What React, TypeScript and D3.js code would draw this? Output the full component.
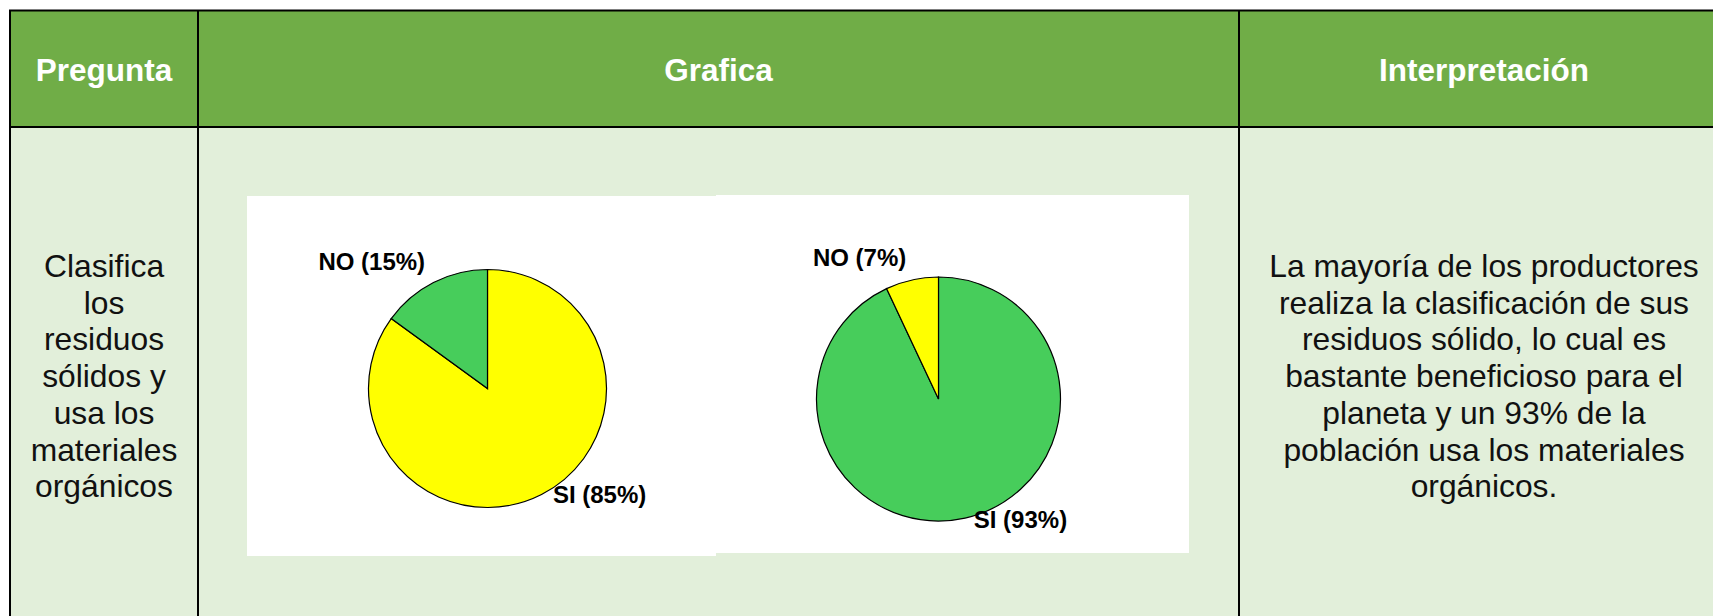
import * as d3 from 'd3'

// survey answers, two questions shown side by side
const categories = ['SI', 'NO']
const clasificaValues = [85, 15]
const organicosValues = [93, 7]
const clasificaColors = ['#ffff00', '#47cd5b']
const organicosColors = ['#47cd5b', '#ffff00']

const headers = ['Pregunta', 'Grafica', 'Interpretación']
const preguntaLines = ['Clasifica', 'los', 'residuos', 'sólidos y', 'usa los', 'materiales', 'orgánicos']
const interpLines = [
  'La mayoría de los productores',
  'realiza la clasificación de sus',
  'residuos sólido, lo cual es',
  'bastante beneficioso para el',
  'planeta y un 93% de la',
  'población usa los materiales',
  'orgánicos.',
]

const FONT = '"Liberation Sans", Arial, Helvetica, sans-serif'
const W = 1713
const H = 616

function Pie({ cx, cy, r, values, colors }: { cx: number, cy: number, r: number, values: number[], colors: string[] }) {
  const data = categories.map((c, i) => ({ cat: c, value: values[i], color: colors[i] }))
  const pie = d3.pie<any>().sort(null).value(d => d.value)
  const arcs = pie(data)
  const arc = d3.arc<any>().innerRadius(0).outerRadius(r)
  const labelArc = d3.arc<any>().innerRadius(r * 1.1).outerRadius(r * 1.1)

  return (
    <g transform={`translate(${cx},${cy})`}>
      {arcs.map((a, i) => (
        <path key={i} d={arc(a) as string} fill={a.data.color} stroke="#000" strokeWidth={1.2} />
      ))}
      {arcs.map((a, i) => {
        const [lx, ly] = labelArc.centroid(a)
        const left = lx < 0
        return (
          <text
            key={'l' + i}
            x={lx + (left ? -3 : 6)}
            y={ly - 2}
            textAnchor={left ? 'end' : 'start'}
            fontFamily={FONT}
            fontWeight="bold"
            fontSize={24}
            fill="#000"
          >
            {`${a.data.cat} (${a.data.value}%)`}
          </text>
        )
      })}
    </g>
  )
}

export default function App() {
  const top = 10.5
  const headBottom = 127
  const colX = [10, 198, 1239, 1729]
  const lineH = 36.7
  const firstBase = 277

  return (
    <div style={{ position: 'absolute', left: 0, top: 0 }}>
      <svg width={W} height={H} style={{ display: 'block', background: '#fff' }}>
        {/* header row + body */}
        <rect x={colX[0]} y={top} width={colX[3] - colX[0]} height={headBottom - top} fill="#70ad47" />
        <rect x={colX[0]} y={headBottom} width={colX[3] - colX[0]} height={H - headBottom + 10} fill="#e2efda" />

        {headers.map((h, i) => (
          <text
            key={h}
            x={(colX[i] + colX[i + 1]) / 2}
            y={81}
            textAnchor="middle"
            fontFamily={FONT}
            fontWeight="bold"
            fontSize={31.5}
            fill="#fff"
          >
            {h}
          </text>
        ))}

        {/* chart pictures */}
        <rect x={247} y={196} width={469} height={360} fill="#fff" />
        <rect x={716} y={195} width={473} height={358} fill="#fff" />
        <Pie cx={487.5} cy={388.5} r={119} values={clasificaValues} colors={clasificaColors} />
        <Pie cx={938.5} cy={399} r={122} values={organicosValues} colors={organicosColors} />

        {preguntaLines.map((t, i) => (
          <text key={t} x={(colX[0] + colX[1]) / 2} y={firstBase + i * lineH}
            textAnchor="middle" fontFamily={FONT} fontSize={31.8} fill="#111">{t}</text>
        ))}
        {interpLines.map((t, i) => (
          <text key={t} x={(colX[2] + colX[3]) / 2} y={firstBase + i * lineH}
            textAnchor="middle" fontFamily={FONT} fontSize={31.8} fill="#111">{t}</text>
        ))}

        {/* grid lines */}
        <line x1={colX[0] - 1} x2={W + 20} y1={top} y2={top} stroke="#000" strokeWidth={2} />
        <line x1={colX[0] - 1} x2={W + 20} y1={headBottom} y2={headBottom} stroke="#000" strokeWidth={2} />
        {colX.slice(0, 3).map(x => (
          <line key={x} x1={x} x2={x} y1={top} y2={H + 10} stroke="#000" strokeWidth={2} />
        ))}
      </svg>
    </div>
  )
}
